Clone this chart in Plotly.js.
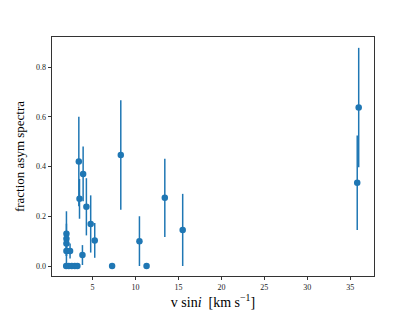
<!DOCTYPE html>
<html>
<head>
<meta charset="utf-8">
<script src="https://cdn.plot.ly/plotly-3.0.1.min.js"></script>
<style>html,body{margin:0;padding:0;background:#fff;}#chart{width:415px;height:311px;}</style>
</head>
<body>
<div id="chart"></div>
<script>
const vsini = [1.98, 1.98, 1.98, 1.98, 2.4, 1.95, 2.25, 2.6, 2.95, 3.25, 3.42, 3.5, 3.92, 3.84, 4.3, 4.8, 5.27, 7.29, 8.3, 10.47, 11.3, 13.42, 15.5, 35.97, 35.8];
const fracAsym = [0.13, 0.11, 0.09, 0.06, 0.06, 0, 0, 0, 0, 0, 0.42, 0.27, 0.37, 0.044, 0.238, 0.169, 0.103, 0, 0.446, 0.10, 0, 0.274, 0.145, 0.637, 0.335];
const fracErr = [0.09, 0.06, 0.05, 0.06, 0.03, 0, 0, 0, 0, 0, 0.18, 0.08, 0.11, 0.04, 0.115, 0.115, 0.07, 0, 0.22, 0.10, 0, 0.157, 0.145, 0.24, 0.19];
const xTicks = [5, 10, 15, 20, 25, 30, 35];
const yTicks = [0.0, 0.2, 0.4, 0.6, 0.8];

const blue = '#1f77b4';
const trace = {
  x: vsini, y: fracAsym, type: 'scatter', mode: 'markers',
  marker: {color: blue, size: 6.5},
  error_y: {type: 'data', array: fracErr, visible: true, color: blue, thickness: 1.5, width: 0},
  hoverinfo: 'none'
};
const font = {family: '"Liberation Serif", "DejaVu Serif", serif', color: '#000'};
const layout = {
  width: 415, height: 311,
  margin: {l: 52, r: 41, t: 37, b: 35},
  paper_bgcolor: '#fff', plot_bgcolor: '#fff',
  showlegend: false,
  font: font,
  xaxis: {
    range: [0.3, 37.75], tickvals: xTicks, ticktext: xTicks.map(String),
    ticks: 'outside', ticklen: 3.5, tickwidth: 0.8, tickcolor: '#000',
    showline: true, linecolor: '#000', linewidth: 0.8, mirror: true,
    showgrid: false, zeroline: false,
    tickfont: {size: 8, family: font.family, color: '#222'},
    title: {text: 'v sin<i>i</i>  [km s<sup>−1</sup>]', font: {size: 14, family: font.family}, standoff: 6}
  },
  yaxis: {
    range: [-0.0402, 0.9206], tickvals: yTicks, ticktext: yTicks.map(v => v.toFixed(1)),
    ticks: 'outside', ticklen: 3.5, tickwidth: 0.8, tickcolor: '#000',
    showline: true, linecolor: '#000', linewidth: 0.8, mirror: true,
    showgrid: false, zeroline: false,
    tickfont: {size: 8, family: font.family, color: '#222'},
    title: {text: 'fraction asym spectra', font: {size: 13, family: font.family}, standoff: 8}
  }
};
Plotly.newPlot('chart', [trace], layout, {staticPlot: true, displayModeBar: false});
</script>
</body>
</html>
